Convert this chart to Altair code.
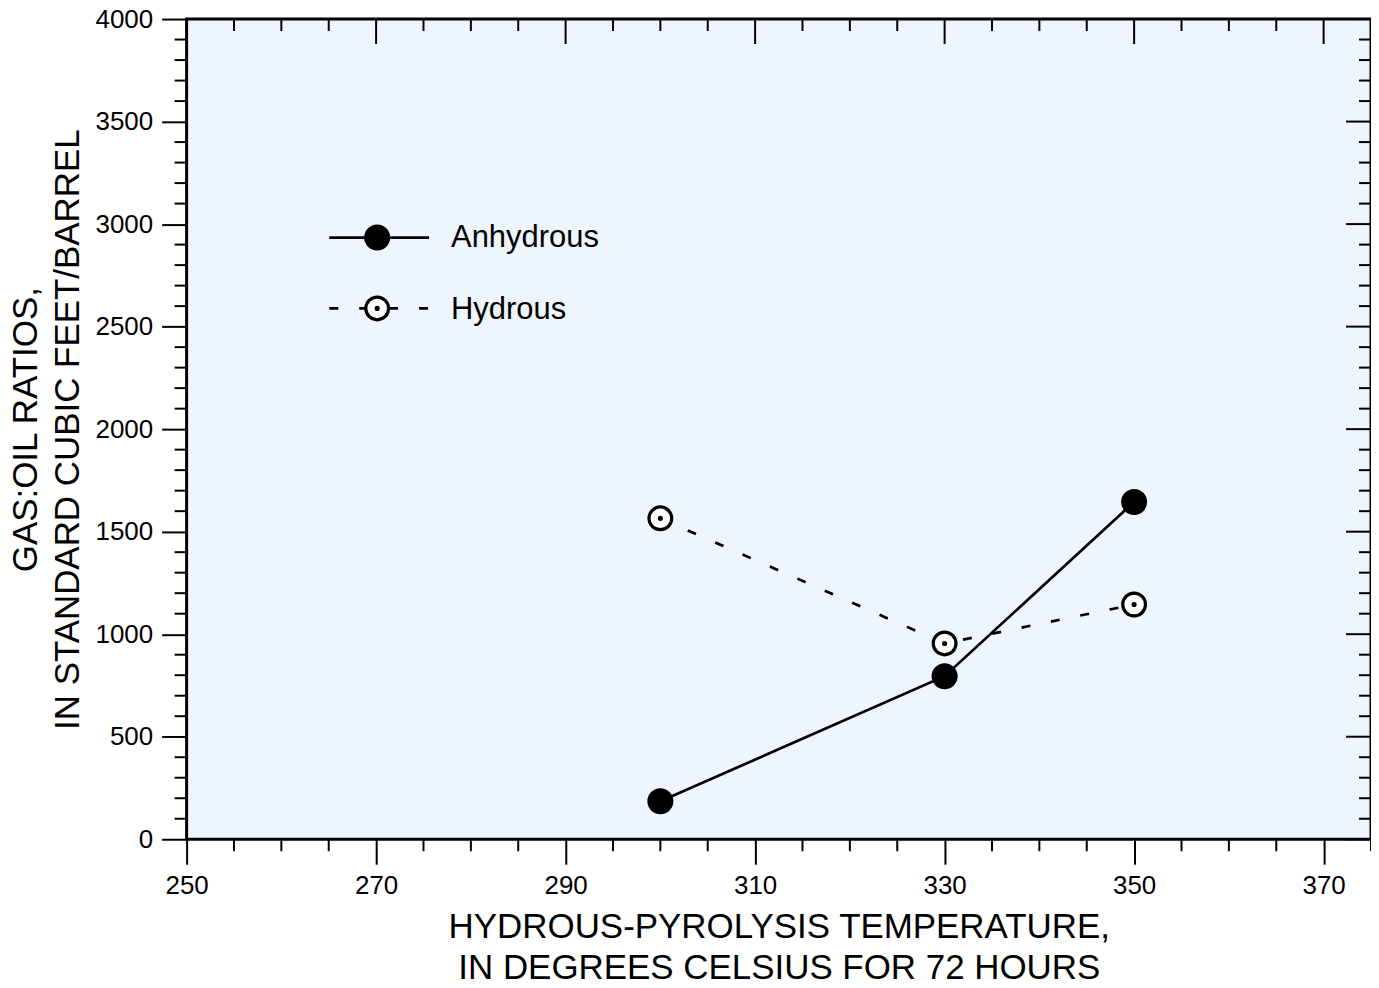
import altair as alt
import pandas as pd

# ---- data ----
temps = [300, 330, 350]
anhydrous = [185, 795, 1645]
hydrous = [1565, 955, 1145]

x_major = [250, 270, 290, 310, 330, 350, 370]
x_minor = [v for v in range(250, 376, 5) if v not in x_major]
y_major = list(range(0, 4001, 500))
y_minor = [v for v in range(0, 4001, 100) if v not in y_major]

legend_labels = ["Anhydrous", "Hydrous"]
x_title = ["HYDROUS-PYROLYSIS TEMPERATURE,", "IN DEGREES CELSIUS FOR 72 HOURS"]
y_title = ["GAS:OIL RATIOS,", "IN STANDARD CUBIC FEET/BARREL"]

W, H = 1187, 822
FONT = "Liberation Sans"
BLACK = "black"
FILLED_SIZE = 680
OPEN_SIZE = 520
DOT_SIZE = 26
LW = 2.7

xs = alt.Scale(domain=[250, 375], nice=False, zero=False)
ys = alt.Scale(domain=[0, 4000], nice=False, zero=False)

df_a = pd.DataFrame({"t": temps, "v": anhydrous})
df_h = pd.DataFrame({"t": temps, "v": hydrous})
df_xmaj = pd.DataFrame({"t": x_major})
df_xmin = pd.DataFrame({"t": x_minor})
df_ymaj = pd.DataFrame({"v": y_major})
df_ymin = pd.DataFrame({"v": y_minor})

x_axis = alt.Axis(
    values=x_major, format="d", tickSize=25, tickWidth=2, tickColor=BLACK, domain=False,
    grid=False, labelFontSize=26, labelFont=FONT, labelColor=BLACK, labelPadding=8,
    labelFlush=False, labelOverlap=False, title=x_title, titleFont=FONT, titleFontSize=35,
    titleFontWeight="normal", titleColor=BLACK, titleLineHeight=42, titlePadding=11,
)
y_axis = alt.Axis(
    values=y_major, format="d", tickSize=25, tickWidth=2, tickColor=BLACK, domain=False,
    grid=False, labelFontSize=26, labelFont=FONT, labelColor=BLACK, labelPadding=9,
    labelFlush=False, labelOverlap=False, title=y_title, titleFont=FONT, titleFontSize=35,
    titleFontWeight="normal", titleColor=BLACK, titleLineHeight=42, titlePadding=10,
)

X = alt.X("t:Q", scale=xs, axis=x_axis)
Y = alt.Y("v:Q", scale=ys, axis=y_axis)

# data lines and markers
line_a = alt.Chart(df_a).mark_line(color=BLACK, strokeWidth=LW).encode(x=X, y=Y)
line_h = alt.Chart(df_h).mark_line(color=BLACK, strokeWidth=LW, strokeDash=[9, 21]).encode(x=X, y=Y)
pts_h = alt.Chart(df_h).mark_point(
    shape="circle", filled=True, fill="white", stroke=BLACK, strokeWidth=3.2, size=OPEN_SIZE, opacity=1
).encode(x=X, y=Y)
dots_h = alt.Chart(df_h).mark_circle(color=BLACK, size=DOT_SIZE, opacity=1).encode(x=X, y=Y)
pts_a = alt.Chart(df_a).mark_circle(color=BLACK, size=FILLED_SIZE, opacity=1).encode(x=X, y=Y)

# tick marks: outward minor on bottom/left, inward on top/right
def xrule(df, y0, y1):
    return alt.Chart(df).mark_rule(color=BLACK, strokeWidth=2).encode(
        x=X, y=alt.value(y0), y2=alt.value(y1)
    )

def yrule(df, x0, x1):
    return alt.Chart(df).mark_rule(color=BLACK, strokeWidth=2).encode(
        y=Y, x=alt.value(x0), x2=alt.value(x1)
    )

ticks = [
    xrule(df_xmin, H, H + 12),
    xrule(df_xmaj, 0, 25),
    xrule(df_xmin, 0, 12),
    yrule(df_ymin, -12, 0),
    yrule(df_ymaj, W - 25, W),
    yrule(df_ymin, W - 12, W),
]

# legend (drawn inside the plot)
leg_a = pd.DataFrame({"label": [legend_labels[0]]})
leg_h = pd.DataFrame({"label": [legend_labels[1]]})
LA_Y, LH_Y = 219, 290
legend = [
    alt.Chart(leg_a).mark_rule(color=BLACK, strokeWidth=LW).encode(
        x=alt.value(143), x2=alt.value(243), y=alt.value(LA_Y)),
    alt.Chart(leg_a).mark_circle(color=BLACK, size=FILLED_SIZE, opacity=1).encode(
        x=alt.value(191), y=alt.value(LA_Y)),
    alt.Chart(leg_a).mark_text(align="left", baseline="alphabetic", fontSize=31, font=FONT,
                               color=BLACK).encode(x=alt.value(265), y=alt.value(228), text="label:N"),
    alt.Chart(leg_h).mark_rule(color=BLACK, strokeWidth=LW, strokeDash=[9, 21]).encode(
        x=alt.value(143), x2=alt.value(245), y=alt.value(LH_Y)),
    alt.Chart(leg_h).mark_point(shape="circle", filled=True, fill="white", stroke=BLACK,
                                strokeWidth=3.2, size=OPEN_SIZE, opacity=1).encode(
        x=alt.value(191), y=alt.value(LH_Y)),
    alt.Chart(leg_h).mark_circle(color=BLACK, size=DOT_SIZE, opacity=1).encode(
        x=alt.value(191), y=alt.value(LH_Y)),
    alt.Chart(leg_h).mark_text(align="left", baseline="alphabetic", fontSize=31, font=FONT,
                               color=BLACK).encode(x=alt.value(265), y=alt.value(301), text="label:N"),
]

chart = alt.layer(
    line_a, line_h, pts_h, dots_h, pts_a, *ticks, *legend
).properties(
    width=W, height=H,
    padding={"left": 179, "top": 10, "right": 0, "bottom": 142},
    autosize=alt.AutoSizeParams(type="none"),
    background="white",
).configure_view(
    fill="#EEF5FC", stroke=BLACK, strokeWidth=3
)

chart.save("out.html", embed_options={"renderer": "svg", "actions": False})
